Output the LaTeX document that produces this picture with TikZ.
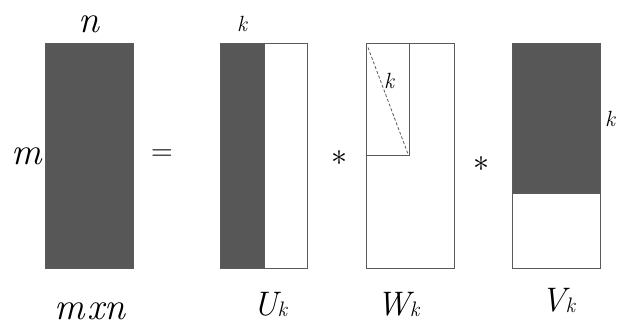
\documentclass[tikz,border=0pt]{standalone}
\definecolor{matfill}{HTML}{575757}
\definecolor{matline}{HTML}{5A5A5A}
\begin{document}
\begin{tikzpicture}[x=1pt,y=-1pt,
  mat/.style={draw=matline,line width=0.9pt},
  dark/.style={mat,fill=matfill},
  big/.style={font=\fontsize{38}{42}\selectfont\itshape,inner sep=0pt},
  mid/.style={font=\fontsize{34}{38}\selectfont\itshape,inner sep=0pt},
  small/.style={font=\fontsize{22}{26}\selectfont\itshape,inner sep=0pt},
  op/.style={font=\fontsize{30}{34}\selectfont,inner sep=0pt},
  star/.style={inner sep=0pt,scale=3.2}]
\useasboundingbox (0,0) rectangle (629,327);
% A
\draw[dark] (45,43) rectangle (133,268);
% U
\draw[dark] (220,43) rectangle (264.5,268);
\draw[mat] (264.5,43) rectangle (307.5,268);
% W
\draw[mat] (366,43) rectangle (454,268);
\draw[mat] (366,43) rectangle (409.5,155);
\coordinate (d1) at (368,47.5);
\coordinate (d2) at (408,154);
\draw[matline,line width=0.8pt,dash pattern=on 3pt off 2pt] (d1) -- (d2);
% V
\draw[dark] (512,43) rectangle (600,193);
\draw[mat] (512,193) rectangle (600,268);
% labels
\node[big] (ln) at (89,24) {n};
\node[big] (lm) at (27,156) {m};
\node[op] (eq) at (162,155) {=};
\node[big] (lmn) at (90,311) {m\hspace{2pt}x\hspace{0pt}n};
\node[small] (k1) at (242,24) {k};
\node[mid] (lu) at (270,304) {U\raisebox{-1pt}{\fontsize{21}{24}\selectfont k}};
\node[star] (s1) at (339,158) {$\ast$};
\node[small] (k2) at (389,81) {k};
\node[mid] (lw) at (398,304) {W\raisebox{-1pt}{\fontsize{21}{24}\selectfont k}};
\node[star] (s2) at (481,164) {$\ast$};
\node[small] (k3) at (610,119) {k};
\node[mid] (lv) at (558,300) {V\raisebox{-1pt}{\fontsize{21}{24}\selectfont k}};
\end{tikzpicture}
\end{document}
